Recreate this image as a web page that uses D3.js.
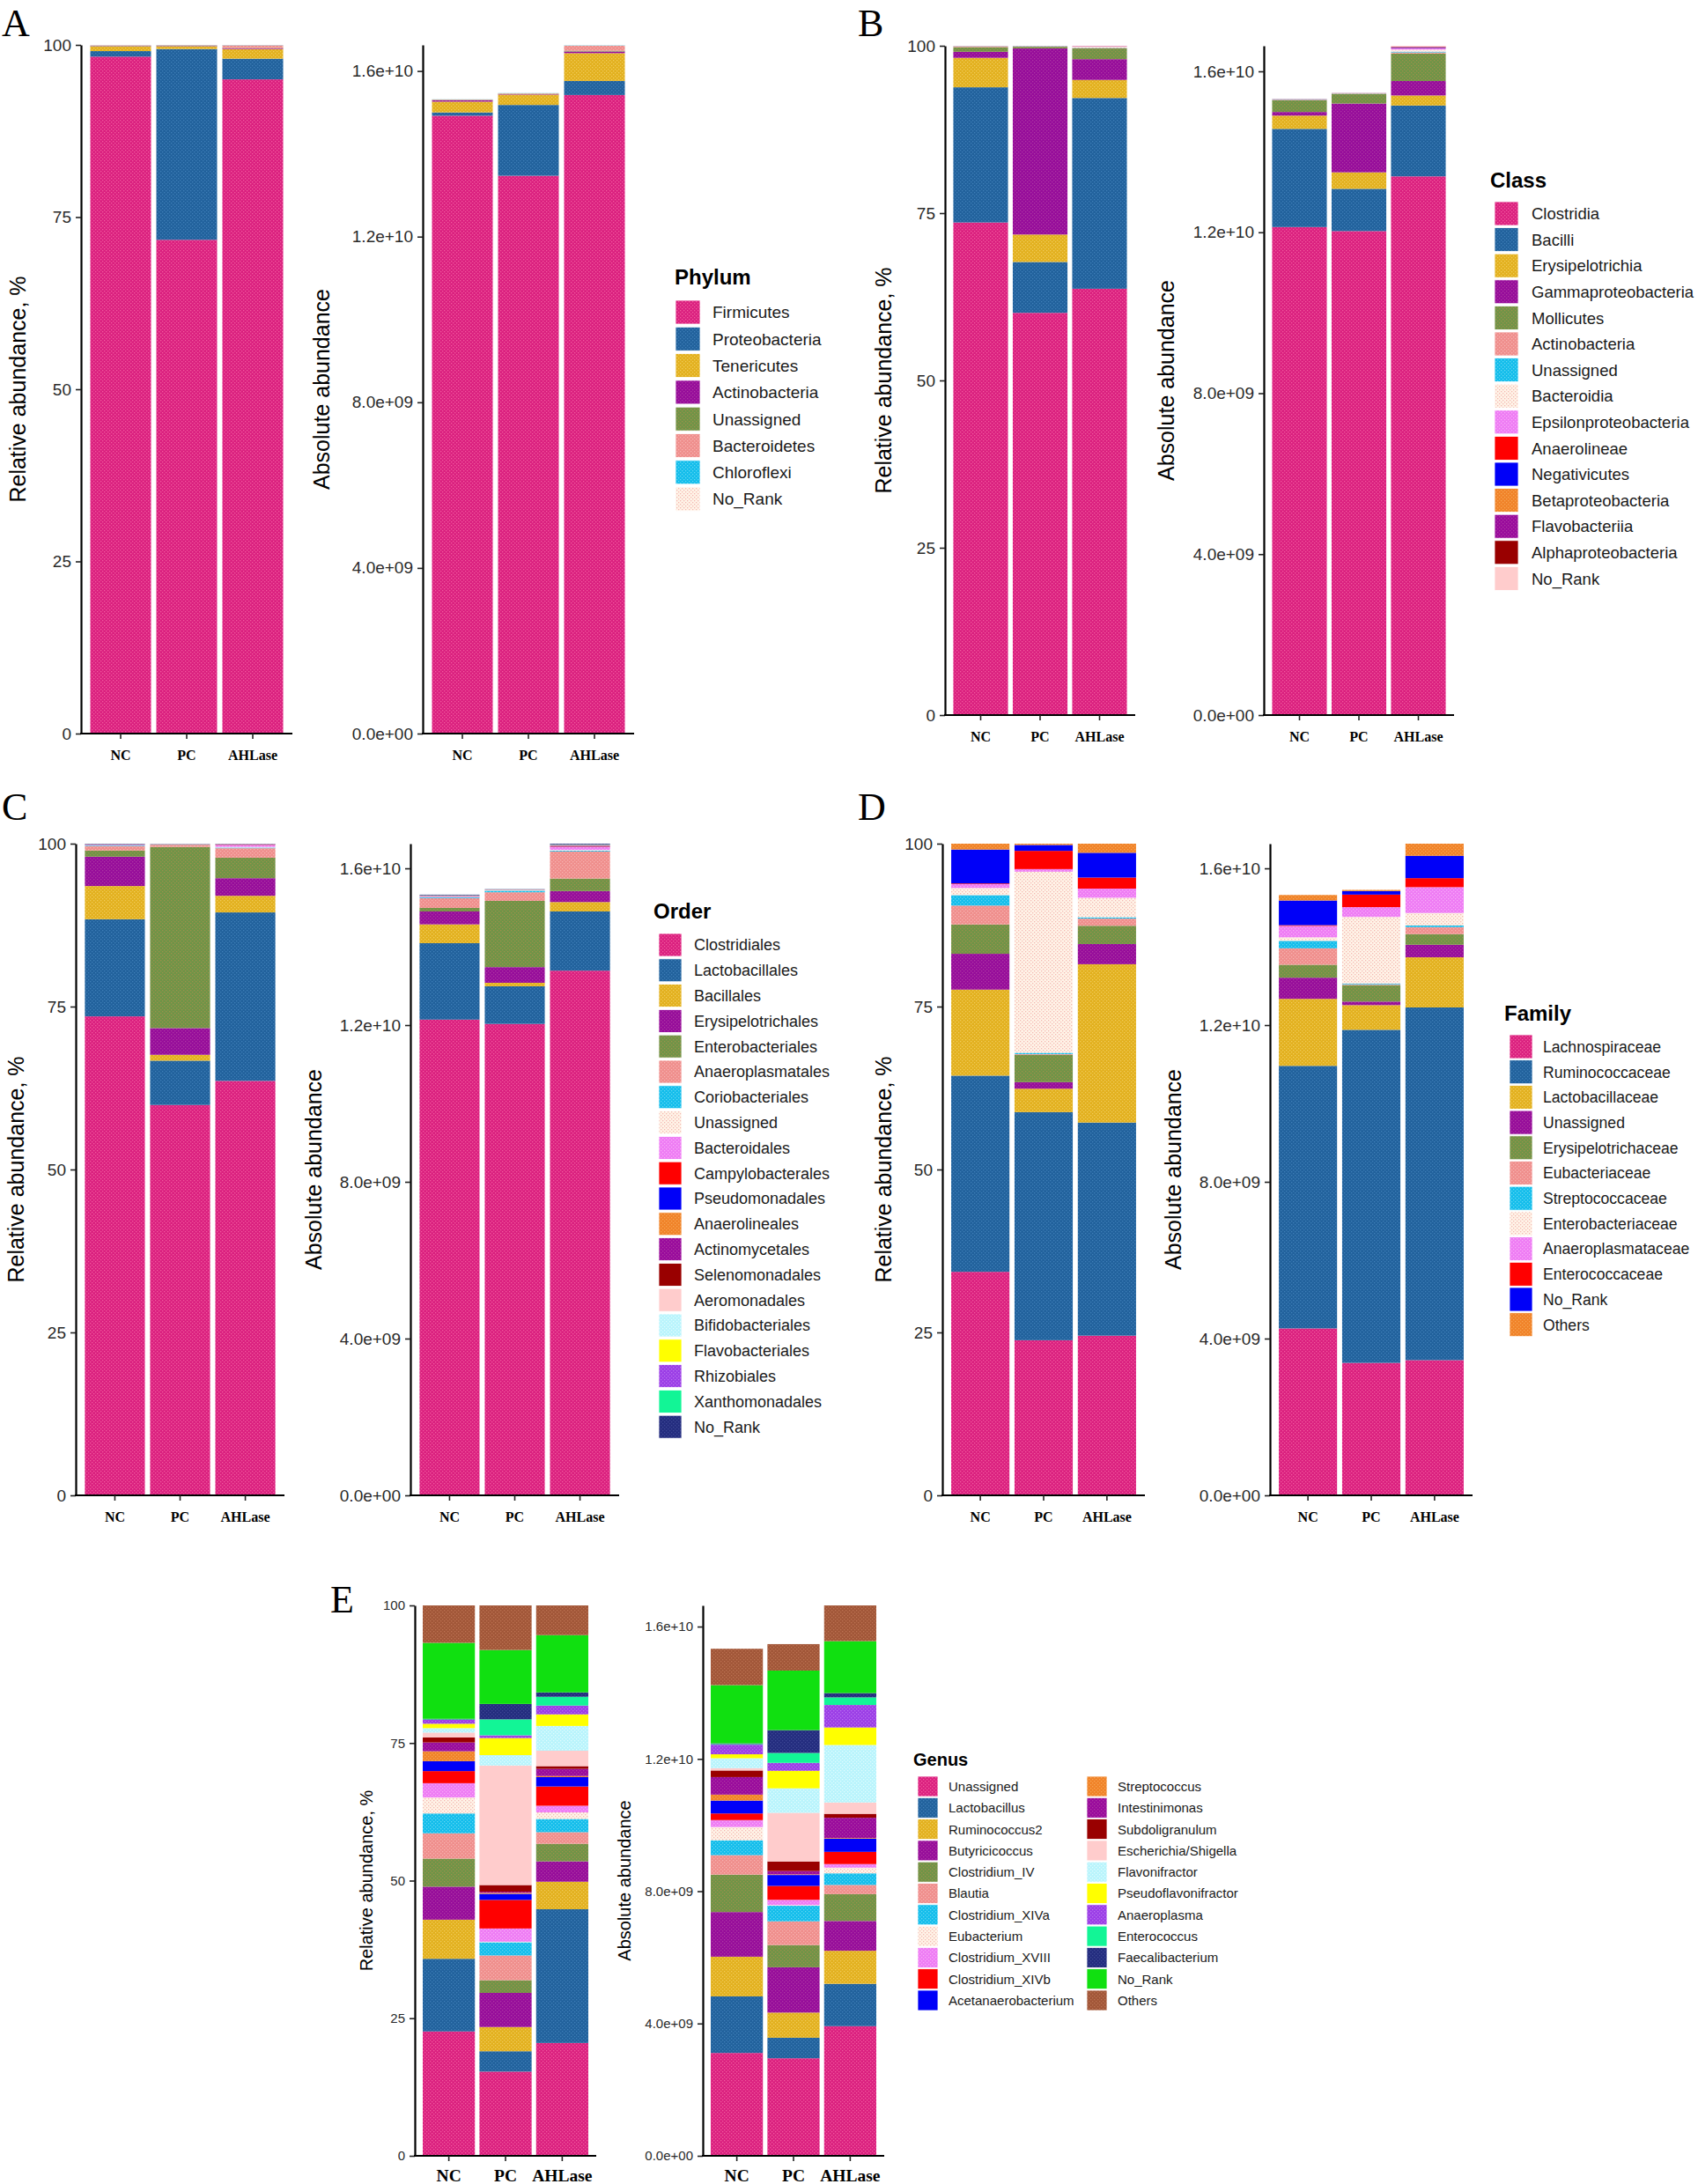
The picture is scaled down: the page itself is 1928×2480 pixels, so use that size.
<!DOCTYPE html>
<html><head><meta charset="utf-8">
<script src="https://cdn.jsdelivr.net/npm/d3@7"></script>
<style>body{margin:0;background:#fff}svg{display:block}</style>
</head><body>
<svg id="fig" width="1928" height="2480"></svg>
<script>
// ---------------- DATA ----------------
const groups = ["NC", "PC", "AHLase"];

const phylumTaxa = ["Firmicutes","Proteobacteria","Tenericutes","Actinobacteria","Unassigned","Bacteroidetes","Chloroflexi","No_Rank"];
const phylumRelNC = [98.3,0.8,0.65,0.05,0.05,0.1,0.02,0.03];
const phylumRelPC = [71.7,27.7,0.4,0.05,0.05,0.07,0.02,0.01];
const phylumRelAHLase = [95.0,3.0,1.4,0.1,0.05,0.4,0.03,0.02];
const phylumAbsNC = [14.92,0.08,0.26,0.03,0.01,0.01,0.005,0.005];      // x 1e9
const phylumAbsPC = [13.47,1.71,0.25,0.01,0.01,0.01,0.005,0.005];
const phylumAbsAHLase = [15.42,0.34,0.67,0.04,0.02,0.12,0.01,0.01];

const classTaxa = ["Clostridia","Bacilli","Erysipelotrichia","Gammaproteobacteria","Mollicutes","Actinobacteria","Unassigned","Bacteroidia","Epsilonproteobacteria","Anaerolineae","Negativicutes","Betaproteobacteria","Flavobacteriia","Alphaproteobacteria","No_Rank"];
const classRelNC = [73.6,20.2,4.4,0.9,0.7,0.1,0.03,0.03,0.01,0.01,0.005,0.005,0.003,0.003,0.004];
const classRelPC = [60.1,7.6,4.1,27.8,0.25,0.08,0.04,0.01,0.005,0.005,0.003,0.003,0.002,0.001,0.001];
const classRelAHLase = [63.7,28.5,2.7,3.1,1.6,0.1,0.03,0.15,0.05,0.02,0.01,0.01,0.01,0.005,0.01];
const classAbsNC = [12.13,2.44,0.33,0.09,0.29,0.015,0.01,0.004,0.002,0.001,0.001,0.001,0.001,0.001,0.002];
const classAbsPC = [12.03,1.05,0.41,1.71,0.24,0.01,0.005,0.002,0.001,0.001,0.001,0.001,0.001,0.001,0.002];
const classAbsAHLase = [13.39,1.76,0.25,0.36,0.68,0.03,0.02,0.05,0.03,0.01,0.01,0.01,0.01,0.005,0.02];

const orderTaxa = ["Clostridiales","Lactobacillales","Bacillales","Erysipelotrichales","Enterobacteriales","Anaeroplasmatales","Coriobacteriales","Unassigned","Bacteroidales","Campylobacterales","Pseudomonadales","Anaerolineales","Actinomycetales","Selenomonadales","Aeromonadales","Bifidobacteriales","Flavobacteriales","Rhizobiales","Xanthomonadales","No_Rank"];
const orderRelNC = [73.5,14.9,5.1,4.5,0.95,0.65,0.1,0.05,0.05,0.02,0.02,0.01,0.02,0.01,0.01,0.01,0.01,0.01,0.01,0.06];
const orderRelPC = [59.9,6.8,0.9,4.1,27.8,0.35,0.05,0.02,0.01,0.01,0.01,0.005,0.005,0.005,0.005,0.005,0.005,0.005,0.005,0.01];
const orderRelAHLase = [63.6,25.85,2.55,2.7,3.15,1.45,0.1,0.1,0.3,0.05,0.02,0.01,0.02,0.01,0.01,0.01,0.01,0.02,0.01,0.03];
const orderAbsNC = [12.14,1.95,0.48,0.33,0.09,0.25,0.02,0.01,0.01,0.005,0.005,0.003,0.003,0.003,0.003,0.003,0.003,0.003,0.003,0.015];
const orderAbsPC = [12.03,0.96,0.09,0.40,1.69,0.22,0.04,0.01,0.005,0.002,0.002,0.002,0.002,0.002,0.002,0.002,0.002,0.002,0.002,0.005];
const orderAbsAHLase = [13.39,1.51,0.24,0.28,0.32,0.69,0.02,0.02,0.08,0.01,0.01,0.005,0.005,0.005,0.005,0.005,0.005,0.005,0.005,0.02];

const familyTaxa = ["Lachnospiraceae","Ruminococcaceae","Lactobacillaceae","Unassigned","Erysipelotrichaceae","Eubacteriaceae","Streptococcaceae","Enterobacteriaceae","Anaeroplasmataceae","Enterococcaceae","No_Rank","Others"];
const familyRelNC = [34.3,30.1,13.2,5.5,4.5,2.9,1.6,1.1,0.6,0.1,5.2,0.9];
const familyRelPC = [23.8,35.0,3.6,1.0,4.2,0.1,0.2,27.8,0.4,2.8,0.9,0.2];
const familyRelAHLase = [24.5,32.7,24.3,3.1,2.8,1.1,0.2,3.0,1.4,1.7,3.8,1.4];
const familyAbsNC = [4.26,6.70,1.71,0.54,0.33,0.42,0.19,0.09,0.29,0.02,0.63,0.14];
const familyAbsPC = [3.38,8.50,0.63,0.09,0.42,0.02,0.02,1.70,0.25,0.32,0.09,0.03];
const familyAbsAHLase = [3.45,9.00,1.28,0.32,0.27,0.18,0.04,0.32,0.66,0.23,0.57,0.31];

const genusTaxa = ["Unassigned","Lactobacillus","Ruminococcus2","Butyricicoccus","Clostridium_IV","Blautia","Clostridium_XIVa","Eubacterium","Clostridium_XVIII","Clostridium_XIVb","Acetanaerobacterium","Streptococcus","Intestinimonas","Subdoligranulum","Escherichia/Shigella","Flavonifractor","Pseudoflavonifractor","Anaeroplasma","Enterococcus","Faecalibacterium","No_Rank","Others"];
const genusRelNC = [22.6,13.2,7.1,6.0,5.1,4.6,3.6,2.9,2.6,2.2,1.8,1.8,1.6,0.9,0.9,0.8,0.8,0.7,0.1,0.1,13.8,6.8];
const genusRelPC = [15.3,3.7,4.4,6.2,2.3,4.5,2.4,0.1,2.4,5.2,1.1,0.2,0.2,1.2,21.7,1.9,3.1,0.5,2.9,2.8,9.8,8.1];
const genusRelAHLase = [20.5,24.3,5.0,3.7,3.2,2.1,2.4,1.2,1.2,3.5,1.7,0.2,1.3,0.5,2.8,4.5,2.1,1.6,1.6,0.8,10.4,5.4];
const genusAbsNC = [3.11,1.71,1.20,1.35,1.13,0.59,0.45,0.40,0.21,0.20,0.39,0.18,0.53,0.20,0.07,0.30,0.12,0.29,0.02,0.02,1.76,1.10];
const genusAbsPC = [2.95,0.62,0.76,1.37,0.67,0.72,0.47,0.02,0.16,0.42,0.33,0.02,0.10,0.29,1.47,0.74,0.53,0.24,0.30,0.69,1.80,0.80];
const genusAbsAHLase = [3.92,1.28,1.00,0.90,0.81,0.28,0.35,0.17,0.11,0.37,0.40,0.02,0.61,0.12,0.34,1.74,0.53,0.68,0.23,0.13,1.57,1.08];

const relTicks = [0, 25, 50, 75, 100];
const absTicks = [0, 4, 8, 12, 16];   // x 1e9

// ---------------- STYLE ----------------
const palette = ["#DA207F","#21619C","#E2B01E","#960C9A","#6E9447","#EF8E8C","#12BDEB","#FFF4E8","#EE7BF4","#FF0000","#0000F8","#F08228","#990A9C","#990000","#FFCCCC","#B8F4FC","#FFFF00","#9B3DE6","#12F596","#232C7E","#10E010","#A15638"];
const dotColors = ["#F25A9E","#3F7FB8","#F2CC58","#AE38A4","#A0904C","#F8B2B0","#62D6F4","#F4B8B2","#F8ABF8","#FF0000","#0000F8","#F7A452","#AE38A4","#990000","#FFCCCC","#E2FCFF","#FFFF00","#B870F0","#12F596","#3E4896","#10E010","#BC7252"];
const sans = "'Liberation Sans', Arial, Helvetica, sans-serif";
const serif = "'Liberation Serif', 'Times New Roman', serif";

const svg = d3.select("#fig");
const defs = svg.append("defs");
palette.forEach((c, i) => {
  const p = defs.append("pattern").attr("id", "pat" + i)
    .attr("patternUnits", "userSpaceOnUse").attr("width", 4).attr("height", 4);
  p.append("rect").attr("width", 4).attr("height", 4).attr("fill", c);
  p.append("rect").attr("x", 0).attr("y", 0).attr("width", 1.3).attr("height", 1.3).attr("fill", dotColors[i]);
  p.append("rect").attr("x", 2).attr("y", 2).attr("width", 1.3).attr("height", 1.3).attr("fill", dotColors[i]);
});
const fillFor = i => `url(#pat${i})`;

function fmtSci(v) {
  let s = (v * 1e9).toExponential(1);
  return s.replace(/e([+-])(\d)$/, "e$10$2");
}

function drawPlot(cfg) {
  const { x0, width, top, bottom, taxa, series, abs, tickFont, xFont, titleFont, titleOffset, xLabelOffset } = cfg;
  const rows = groups.map((g, gi) => {
    const r = { group: g };
    taxa.forEach((t, ti) => r[t] = series[gi][ti]);
    return r;
  });
  const stacked = d3.stack().keys(taxa)(rows);
  const maxTot = d3.max(rows, r => d3.sum(taxa, t => r[t]));
  const x = d3.scaleBand().domain(groups).range([x0, x0 + width]).paddingInner(0.08).paddingOuter(0.14);
  const y = d3.scaleLinear().domain([0, abs ? maxTot : 100]).range([bottom, top]);
  const g = svg.append("g");
  stacked.forEach((layer, li) => {
    g.selectAll(null).data(layer).enter().append("rect")
      .attr("x", d => x(d.data.group))
      .attr("width", x.bandwidth())
      .attr("y", d => y(d[1]))
      .attr("height", d => Math.max(0, y(d[0]) - y(d[1])))
      .attr("fill", fillFor(li));
  });
  // y axis
  const ya = d3.axisLeft(y).tickValues(abs ? absTicks : relTicks)
    .tickFormat(abs ? fmtSci : d3.format("d")).tickSize(6).tickSizeOuter(0).tickPadding(5);
  const yg = g.append("g").attr("transform", `translate(${x0},0)`).call(ya);
  yg.select(".domain").attr("stroke", "#000").attr("stroke-width", 2.2);
  yg.selectAll(".tick line").attr("stroke", "#222").attr("stroke-width", 1.6);
  yg.selectAll(".tick text").attr("font-family", sans).attr("font-size", tickFont).attr("fill", "#2a2a2a");
  // x axis
  const xa = d3.axisBottom(x).tickSize(6).tickSizeOuter(0);
  const xg = g.append("g").attr("transform", `translate(0,${bottom})`).call(xa);
  xg.select(".domain").attr("stroke", "#000").attr("stroke-width", 2.2)
    .attr("d", `M${x0 - 1},0H${x0 + width}`);
  xg.selectAll(".tick line").attr("stroke", "#222").attr("stroke-width", 1.6);
  xg.selectAll(".tick text").attr("font-family", serif).attr("font-weight", "bold")
    .attr("font-size", xFont).attr("fill", "#000").attr("dy", null).attr("y", xLabelOffset);
  // y title
  const cy = (top + bottom) / 2;
  g.append("text").attr("transform", `translate(${x0 - titleOffset},${cy}) rotate(-90)`)
    .attr("text-anchor", "middle").attr("font-family", sans).attr("font-size", titleFont)
    .attr("fill", "#000").text(abs ? "Absolute abundance" : "Relative abundance, %");
}

function drawLegend(cfg) {
  const { title, titleX, titleY, titleFont, taxa, keyX, keyTop, keyW, keyH, step, labelGap, labelFont, perCol, colGap } = cfg;
  const g = svg.append("g");
  g.append("text").attr("x", titleX).attr("y", titleY).attr("font-family", sans)
    .attr("font-weight", "bold").attr("font-size", titleFont).attr("fill", "#000").text(title);
  taxa.forEach((t, i) => {
    const col = Math.floor(i / perCol), row = i % perCol;
    const kx = keyX + col * colGap, ky = keyTop + row * step;
    g.append("rect").attr("x", kx).attr("y", ky).attr("width", keyW).attr("height", keyH)
      .attr("fill", fillFor(i)).attr("stroke", "#fff").attr("stroke-width", 0.8);
    g.append("text").attr("x", kx + keyW + labelGap).attr("y", ky + keyH / 2)
      .attr("dy", "0.36em").attr("font-family", sans).attr("font-size", labelFont)
      .attr("fill", "#1a1a1a").text(t);
  });
}

function panelLetter(txt, x, y) {
  svg.append("text").attr("x", x).attr("y", y).attr("font-family", serif)
    .attr("font-size", 44).attr("fill", "#000").text(txt);
}

const big = { tickFont: 19, xFont: 16, titleFont: 25, xLabelOffset: 30 };
const small = { tickFont: 15, xFont: 19.5, titleFont: 20, xLabelOffset: 29 };

// Panel A
panelLetter("A", 2, 41);
drawPlot({ ...big, x0: 92, width: 240, top: 51, bottom: 833, taxa: phylumTaxa,
  series: [phylumRelNC, phylumRelPC, phylumRelAHLase], abs: false, titleOffset: 63 });
drawPlot({ ...big, x0: 480, width: 240, top: 51, bottom: 833, taxa: phylumTaxa,
  series: [phylumAbsNC, phylumAbsPC, phylumAbsAHLase], abs: true, titleOffset: 106 });
drawLegend({ title: "Phylum", titleX: 766, titleY: 323, titleFont: 24, taxa: phylumTaxa,
  keyX: 767, keyTop: 341, keyW: 28, keyH: 27, step: 30.3, labelGap: 14, labelFont: 19, perCol: 99, colGap: 0 });

// Panel B
panelLetter("B", 974, 41);
drawPlot({ ...big, x0: 1073, width: 216, top: 52, bottom: 812, taxa: classTaxa,
  series: [classRelNC, classRelPC, classRelAHLase], abs: false, titleOffset: 61 });
drawPlot({ ...big, x0: 1435, width: 216, top: 52, bottom: 812, taxa: classTaxa,
  series: [classAbsNC, classAbsPC, classAbsAHLase], abs: true, titleOffset: 102 });
drawLegend({ title: "Class", titleX: 1692, titleY: 213, titleFont: 24, taxa: classTaxa,
  keyX: 1697, keyTop: 229, keyW: 27, keyH: 27, step: 29.6, labelGap: 15, labelFont: 18.5, perCol: 99, colGap: 0 });

// Panel C
panelLetter("C", 2, 931);
drawPlot({ ...big, x0: 86, width: 237, top: 958, bottom: 1698, taxa: orderTaxa,
  series: [orderRelNC, orderRelPC, orderRelAHLase], abs: false, titleOffset: 59 });
drawPlot({ ...big, x0: 466, width: 237, top: 958, bottom: 1698, taxa: orderTaxa,
  series: [orderAbsNC, orderAbsPC, orderAbsAHLase], abs: true, titleOffset: 101 });
drawLegend({ title: "Order", titleX: 742, titleY: 1043, titleFont: 24, taxa: orderTaxa,
  keyX: 748, keyTop: 1060, keyW: 26, keyH: 26, step: 28.8, labelGap: 14, labelFont: 18, perCol: 99, colGap: 0 });

// Panel D
panelLetter("D", 974, 931);
drawPlot({ ...big, x0: 1070, width: 230, top: 958, bottom: 1698, taxa: familyTaxa,
  series: [familyRelNC, familyRelPC, familyRelAHLase], abs: false, titleOffset: 58 });
drawPlot({ ...big, x0: 1442, width: 230, top: 958, bottom: 1698, taxa: familyTaxa,
  series: [familyAbsNC, familyAbsPC, familyAbsAHLase], abs: true, titleOffset: 101 });
drawLegend({ title: "Family", titleX: 1708, titleY: 1159, titleFont: 24, taxa: familyTaxa,
  keyX: 1714, keyTop: 1175, keyW: 26, keyH: 27, step: 28.7, labelGap: 12, labelFont: 17.6, perCol: 99, colGap: 0 });

// Panel E
panelLetter("E", 375, 1831);
drawPlot({ ...small, x0: 471, width: 206, top: 1823, bottom: 2448, taxa: genusTaxa,
  series: [genusRelNC, genusRelPC, genusRelAHLase], abs: false, titleOffset: 48 });
drawPlot({ ...small, x0: 798, width: 206, top: 1823, bottom: 2448, taxa: genusTaxa,
  series: [genusAbsNC, genusAbsPC, genusAbsAHLase], abs: true, titleOffset: 82 });
drawLegend({ title: "Genus", titleX: 1037, titleY: 2005, titleFont: 20, taxa: genusTaxa,
  keyX: 1042, keyTop: 2017, keyW: 23, keyH: 23, step: 24.3, labelGap: 12, labelFont: 15, perCol: 11, colGap: 192 });
</script>
</body></html>
